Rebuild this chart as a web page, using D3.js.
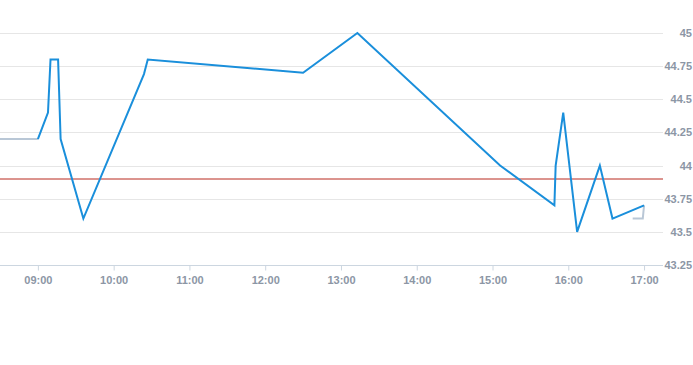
<!DOCTYPE html>
<html>
<head>
<meta charset="utf-8">
<script src="https://cdn.jsdelivr.net/npm/d3@7"></script>
<style>
  body { margin: 0; background: #fff; }
  .eje text { font-family: "Liberation Sans", Arial, sans-serif; font-size: 11px; font-weight: bold; fill: #8c96a5; }
</style>
</head>
<body>
<script>
// datos de la sesión
const horasPre = ["08:30", "09:00"]
const valoresPre = [44.2, 44.2]

const horas = ["09:00", "09:08", "09:10", "09:16", "09:18", "09:36", "10:24", "10:27", "12:30", "13:13",
               "15:06", "15:49", "15:50", "15:56", "16:07", "16:25", "16:35", "17:00"]
const valores = [44.2, 44.4, 44.8, 44.8, 44.2, 43.6, 44.69, 44.8, 44.7, 45,
                 44.0, 43.7, 44.0, 44.4, 43.5, 44.0, 43.6, 43.7]

const horasPost = ["16:51", "16:59", "17:00"]
const valoresPost = [43.6, 43.6, 43.7]

const cierreAnterior = 43.9

const ticksX = ["09:00", "10:00", "11:00", "12:00", "13:00", "14:00", "15:00", "16:00", "17:00"]
const ticksY = [43.25, 43.5, 43.75, 44, 44.25, 44.5, 44.75, 45]

const hora = h => new Date(2024, 0, 2, +h.split(":")[0], +h.split(":")[1])

const width = 693, height = 365
const plotW = 663

const svg = d3.select("body").append("svg")
    .attr("width", width)
    .attr("height", height)

// EJES
const x = d3.scaleTime()
    .domain([hora("08:30"), hora("17:15")])
    .range([0, plotW])

const y = d3.scaleLinear()
    .domain([43.25, 45])
    .range([265, 33])

// rejilla
svg.append("g")
    .selectAll("line")
    .data(ticksY.slice(1))
    .join("line")
        .attr("x1", 0).attr("x2", plotW)
        .attr("y1", d => Math.round(y(d)) + 0.5)
        .attr("y2", d => Math.round(y(d)) + 0.5)
        .attr("stroke", "#e6e6e6")

// eje Y a la derecha
const ejeY = svg.append("g")
    .attr("class", "eje")
    .attr("transform", "translate(" + (width - 1) + ",0)")
    .call(d3.axisLeft(y).tickValues(ticksY).tickSize(0).tickPadding(0).tickFormat(d => String(d)))
ejeY.select(".domain").remove()

// eje X
const ejeX = svg.append("g")
    .attr("class", "eje")
    .attr("transform", "translate(0,265.5)")
    .call(d3.axisBottom(x).tickValues(ticksX.map(hora)).tickSize(5).tickPadding(6).tickFormat(d3.timeFormat("%H:%M")))
ejeX.select(".domain")
    .attr("d", "M0,0H" + plotW)
    .attr("stroke", "#ccd6e0")
ejeX.selectAll(".tick line").attr("stroke", "#ccd6e0")

// línea de cierre anterior
svg.append("line")
    .attr("x1", 0).attr("x2", plotW)
    .attr("y1", Math.round(y(cierreAnterior)))
    .attr("y2", Math.round(y(cierreAnterior)))
    .attr("stroke", "#b8281e")
    .attr("stroke-width", 1)

const linea = d3.line()
    .x(d => x(hora(d[0])))
    .y(d => y(d[1]))

// pre y post apertura
svg.append("path")
    .datum(d3.zip(horasPre, valoresPre))
    .attr("fill", "none")
    .attr("stroke", "#b9c7d6")
    .attr("stroke-width", 2)
    .attr("d", linea)

svg.append("path")
    .datum(d3.zip(horasPost, valoresPost))
    .attr("fill", "none")
    .attr("stroke", "#b9c7d6")
    .attr("stroke-width", 2)
    .attr("d", linea)

// sesión
svg.append("path")
    .datum(d3.zip(horas, valores))
    .attr("fill", "none")
    .attr("stroke", "#1a8fdb")
    .attr("stroke-width", 2)
    .attr("stroke-linejoin", "miter")
    .attr("d", linea)
</script>
</body>
</html>
